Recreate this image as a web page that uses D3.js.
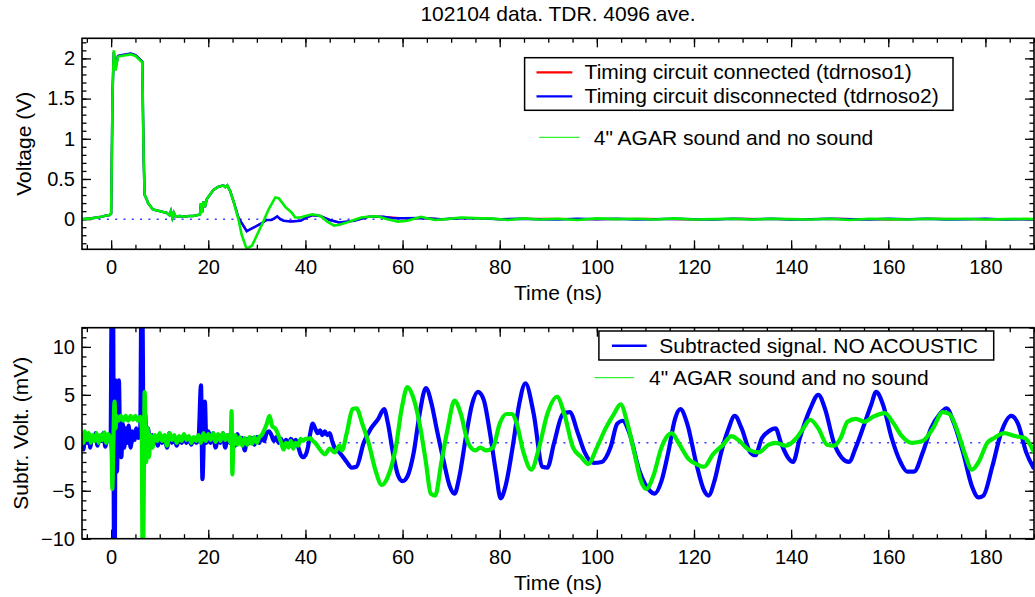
<!DOCTYPE html>
<html>
<head>
<meta charset="utf-8">
<script src="https://cdn.jsdelivr.net/npm/d3@7"></script>
<style>
  body { margin: 0; background: #fff; }
  svg { display: block; }
  text { font-family: "Liberation Sans", Arial, Helvetica, sans-serif; fill: #000; }
</style>
</head>
<body>
<div id="myChart"></div>
<script>
const width = 1035
const height = 597

// ---- data (time in ns) ----
// top panel, volts
const topGreen = [[-6,0],[-4,0.01],[-2,0.03],[-1,0.045],[-0.3,0.05],[0,0.07],[0.3,1.6],[0.55,2.1],[0.9,1.85],[1.4,2.02],[2,2.03],[3,2.04],[4,2.05],[5,2.03],[5.9,1.98],[6.4,1.95],[6.7,0.75],[6.9,0.3],[7.3,0.25],[7.6,0.2],[8.1,0.16],[8.6,0.12],[9.3,0.11],[10,0.1],[10.7,0.09],[11.4,0.08],[12,0.05],[12.3,0.1],[12.6,0.02],[12.9,0.08],[13.3,0.03],[14.1,0.04],[15,0.03],[16,0.04],[16.9,0.04],[17.8,0.05],[18.3,0.06],[18.5,0.2],[18.7,0.08],[19,0.22],[19.3,0.15],[19.7,0.25],[20.3,0.3],[21,0.36],[22,0.4],[23.1,0.42],[23.5,0.4],[23.9,0.42],[24.5,0.35],[25.2,0.22],[26.2,0],[26.9,-0.2],[27.9,-0.37],[29,-0.33],[30,-0.2],[31.4,-0.02],[32.4,0.12],[33.8,0.27],[34.5,0.26],[35.9,0.15],[37.2,0.08],[37.9,0.02],[39,0.02],[40,0.04],[41.4,0.06],[43.1,0.04],[44.5,-0.03],[45.9,-0.08],[47,-0.07],[48.6,-0.04],[50,-0.01],[51.5,0.02],[52.8,0.03],[54.8,0.035],[56.9,0],[59,-0.03],[61,-0.02],[63.8,0.03],[66.6,-0.01],[69,0],[72.1,0.02],[76.2,0.01],[78,0.01],[81.7,-0.01],[85,0.01],[88,-0.005],[92,0.005],[96,-0.01],[100,0.01],[104,0],[108,0.005],[112,-0.005],[116,0.01],[120,-0.005],[124,0],[128,0.005],[132,-0.005],[136,0.005],[140,0],[144,-0.005],[148,0.005],[152,-0.01],[156,0.005],[160,0],[164,-0.005],[168,0.005],[172,0],[176,0.005],[180,-0.005],[184,0],[188,0.005],[190,0]]
const topBlueHead = [[-6,0],[-4,0.01],[-2,0.03],[-1,0.045],[-0.3,0.05],[0,0.07],[0.3,1.6],[0.55,2.08],[0.9,1.87],[1.4,2.03],[2,2.04],[3,2.05],[4,2.06],[5,2.04],[5.9,1.99],[6.4,1.96],[6.7,0.75],[6.9,0.3],[7.3,0.25],[7.6,0.2],[8.1,0.16],[8.6,0.12],[9.3,0.11],[10,0.1],[10.7,0.09],[11.4,0.08],[12,0.05],[12.3,0.1],[12.6,0.02],[12.9,0.08],[13.3,0.03],[14.1,0.04],[15,0.03],[16,0.04],[16.9,0.04],[17.8,0.05],[18.3,0.06],[18.5,0.2],[18.7,0.08],[19,0.22],[19.3,0.15],[19.7,0.25],[20.3,0.3],[21,0.36],[22,0.4],[23.1,0.42],[23.5,0.4],[23.9,0.42],[24.5,0.35],[25.2,0.22]]
const topBlueTail = [[26.2,0.02],[26.9,-0.05],[27.9,-0.15],[28.5,-0.13],[29.5,-0.1],[31,-0.05],[32,-0.01],[33,-0.01],[33.6,0.01],[34.2,0.035],[34.8,0],[35.5,-0.02],[37,-0.03],[39,-0.02],[40.5,0.03],[41.5,0.05],[43,0.04],[45,-0.01],[47,-0.04],[50,-0.02],[53,0.03],[56,0.03],[58,0.01],[60,0.01],[64,0.015],[68,0],[72,0.01],[76,0.01],[80,0],[84,0.005],[88,0],[92,-0.005],[96,0.005],[100,0],[104,0.005],[108,-0.005],[112,0],[116,0.005],[120,0],[124,-0.005],[128,0.005],[132,0],[136,0.005],[140,-0.005],[144,0],[148,0.005],[152,0],[156,-0.005],[160,0.005],[164,0],[168,0.005],[172,-0.005],[176,0],[180,0.005],[184,-0.005],[188,0],[190,0]]
const topRedTail = [[26.2,0.02],[26.9,-0.05],[27.9,-0.14],[28.5,-0.13],[29.5,-0.1],[31,-0.05],[32,-0.01],[33,-0.01],[34.2,0.03],[35.5,-0.02],[37,-0.03],[39,-0.02],[41.5,0.05],[43,0.04],[45,-0.01],[47,-0.045],[50,-0.02],[53,0.03],[56,0.03],[60,0.01],[64,0.015],[68,0],[72,0.015],[76,0.01],[80,0],[90,0.005],[100,0],[110,0.005],[120,-0.005],[130,0.005],[140,0],[150,0.005],[160,-0.005],[170,0.005],[180,0],[190,0]]

// bottom panel, millivolts
const subBlue = [[-6,0.5],[-5.7,-0.7],[-5.4,0.8],[-5,0],[-4.6,0.9],[-4.3,-0.5],[-4,0.3],[-3.5,0.3],[-3.2,1],[-2.8,-0.3],[-2.4,0.6],[-2,0.2],[-1.6,1],[-1.2,-0.4],[-0.8,0.7],[-0.4,0.2],[-0.1,0.5],[0.1,14],[0.4,14],[0.6,-12],[0.75,-12],[0.9,6.5],[1.2,-3],[1.4,2],[1.6,6.5],[1.8,1],[2.1,-1.5],[2.4,2],[2.7,-0.5],[3,1.5],[3.3,0],[3.6,1.8],[4,-0.5],[4.4,1.2],[4.8,0.3],[5.2,1.5],[5.6,0.5],[6,1.5],[6.2,13],[6.45,13],[6.7,-3],[7,3],[7.3,-1],[7.6,1.5],[8,-0.5],[8.4,0.8],[8.8,0],[9.2,0.5],[9.6,-0.3],[10,0.8],[10.5,0],[11,0.5],[11.5,-0.5],[12,1],[12.5,0],[13,0.5],[13.5,-0.3],[14,0.5],[14.5,0],[15,0.8],[15.5,0],[16,0.5],[16.5,-0.2],[17,0.5],[17.5,0],[18,0.5],[18.5,6],[18.8,-3.8],[19.1,1],[19.3,4.3],[19.6,0],[20,1.2],[20.5,0],[21,1],[21.5,-0.5],[22,0.6],[22.5,0],[23,1],[23.5,-0.5],[24,0.8],[24.5,0],[25,0.6],[25.5,-0.3],[26,0.9],[26.5,0],[27,0.5],[27.5,-0.8],[28,0.4],[28.5,0],[29,0.5],[29.5,-0.2],[30,0.6],[30.5,0],[31,0.7],[31.5,0.2],[32,1],[32.5,1.2],[33,0.8],[33.5,0.2],[34,0.6],[34.5,0],[35,0.4],[35.5,-0.4],[36,0.3],[36.5,-0.3],[37,0.4],[37.5,0],[38,0.3],[38.5,-0.4],[39,-1.2],[39.5,-1.5],[40,-1.3],[40.5,-0.5],[41,1],[41.5,2],[42,1.5],[42.5,1],[43,1.3],[43.5,0.8],[44,1.2],[44.5,0.8],[45,1],[45.5,0.2],[46,-0.5],[47,-1],[48.5,-2],[49.5,-2.6],[50.5,-2.5],[52,0],[53.5,1.5],[55,2.5],[56.2,3.5],[57,2],[58,-1],[59,-3.3],[60,-4],[61,-3.5],[62.3,-1],[63.5,3],[64.8,5.7],[66,4],[67,1.5],[68.5,-2],[69.7,-4.5],[70.7,-5.3],[71.7,-3.5],[73,0.5],[74.3,4],[75.5,5.3],[76.7,4.5],[78,1],[79.2,-3],[80.2,-5.8],[81.2,-4.5],[82.8,0],[84,4],[85.3,6.2],[87,3],[88.8,-2.5],[89.8,-2.6],[91.2,0],[93,3],[94.4,3.2],[96.1,1],[97.5,-1],[99.3,-2.1],[101,-2],[102.8,-0.5],[104.2,2],[105.3,2.3],[106.7,1],[108.8,-3],[110.9,-5],[111.9,-5.3],[113.3,-4],[114.7,-1],[116.1,2.5],[117.2,3.5],[118.6,2],[120.4,-2],[122.1,-5],[123,-5.5],[124.2,-4],[125.6,-1],[127,1.3],[128.4,2.8],[129.8,1.5],[131.6,-1],[132.6,-1.3],[134,0.5],[135.4,1.2],[136.8,1.5],[137.9,0],[139.3,-1.5],[140.4,-2],[141.8,0.5],[143.9,3.5],[145.6,5],[147,3.5],[148.8,0],[150.5,-1.6],[151.9,-2],[153.3,-0.5],[155.1,2],[156.5,4],[157.5,5.3],[158.9,4],[160.7,0.5],[162.5,-2],[163.9,-3],[165.3,-3],[167.1,-1],[168.8,1.5],[170.6,3],[172,3.6],[173.4,2.2],[175.4,-1],[177.2,-4.5],[178.6,-5.7],[179.6,-5.5],[181.4,-2.5],[183.2,1],[185.3,2.8],[186.7,2],[188.4,-1],[190,-2.7]]
const subGreen = [[-6,1],[-5.7,0],[-5.4,1.2],[-5,0.3],[-4.6,1],[-4.2,0],[-3.8,0.8],[-3.4,0.2],[-3,1],[-2.6,0],[-2.2,0.8],[-1.8,0.3],[-1.4,1.1],[-1,0],[-0.6,0.9],[-0.2,0.4],[0.1,-1],[0.25,-4.8],[0.45,0],[0.7,4.3],[0.9,1.5],[1.1,2.8],[1.5,2.3],[2,2.8],[2.5,2.3],[3,2.8],[3.5,2.3],[4,2.8],[4.5,2.4],[5,2.8],[5.5,2.3],[6,2.7],[6.3,1.5],[6.45,-10.5],[6.6,-10.5],[6.9,5.3],[7.2,-2],[7.5,1.5],[7.8,-1.5],[8.1,0.8],[8.5,-0.5],[9,0.8],[9.5,0.2],[10,1],[10.5,0.2],[11,0.8],[11.5,-0.3],[12,1],[12.5,0.3],[13,0.8],[13.5,0],[14,0.7],[14.5,0.2],[15,0.9],[15.5,0.3],[16,0.7],[16.5,0],[17,0.6],[17.5,0.2],[18,0.8],[18.5,0],[19,1],[19.5,0.2],[20,0.9],[20.5,0.3],[21,1],[21.5,0.1],[22,0.9],[22.5,0.2],[23,1],[23.5,0.3],[24,0.8],[24.6,0],[24.8,3.3],[24.95,-3.3],[25.2,0.2],[25.6,0.8],[26,-0.2],[26.5,0.6],[27,-0.3],[27.5,0.5],[28,-0.2],[28.5,0.6],[29,-0.1],[29.5,0.6],[30,0],[30.5,0.6],[31,0.8],[31.5,1.3],[32,1.9],[32.6,2.8],[33.2,1.7],[33.8,1.5],[34.5,0.7],[35,0],[35.5,-0.7],[36,0],[36.5,-0.5],[37,0.2],[37.5,-0.6],[38,0],[38.5,-0.3],[39,0.4],[39.5,0.2],[40,0.4],[40.5,0.4],[41,0.5],[41.5,0.2],[42,0],[43,-0.7],[44,-1.2],[45,-0.6],[46,-1],[47,-0.3],[47.5,-0.8],[48.5,1],[49.7,3.5],[50.5,3.6],[51.7,2],[53,0],[54.5,-3],[55.7,-4.4],[57,-3.5],[58.6,-0.5],[59.8,3.5],[61,5.8],[62,5],[63.5,2],[64.8,-2],[65.8,-5.3],[66.7,-5.5],[68,-2],[69.3,1.5],[70.7,4.4],[72,3],[73.5,0],[75,-0.8],[76,-0.5],[77.2,-0.8],[78.6,-0.5],[80,2],[81.4,3],[82.5,3],[83.5,2],[84.9,-1],[86.5,-2.8],[88.1,-0.5],[89.8,3],[91.8,4.8],[93.3,3],[95.1,-0.5],[96.8,-1.5],[98.2,-2.2],[100,-0.5],[101.8,1.5],[103.5,3],[104.9,4],[106.3,2],[107.7,-1],[109.1,-4],[110.2,-4.8],[111.6,-3.5],[113.3,-0.5],[114.7,0.8],[115.4,1],[116.8,0],[118.9,-1.7],[120.4,-2.2],[122.1,-2.5],[123.9,-1.2],[126,-0.2],[127.7,0.7],[129.1,0.3],[131.2,-0.7],[133.3,-1],[135.4,-0.2],[136.8,0],[138.9,-0.3],[141.1,0.5],[142.5,1.5],[143.9,2.4],[145.6,1.5],[147.4,-0.2],[148.8,-0.3],[150.2,0.5],[151.6,2.2],[153.3,2.5],[155.1,2.2],[156.8,2.7],[159.3,3.1],[161.1,2],[162.8,0.7],[164.9,0],[167.1,0.2],[169.2,1.5],[171.2,3.2],[172.6,3],[174.4,1],[175.8,-1.2],[177.2,-2.8],[178.6,-2],[180.4,0],[181.8,0.5],[183.9,1],[186,0.7],[188.1,0.5],[190,-1]]

const xTicks = [0, 20, 40, 60, 80, 100, 120, 140, 160, 180]
const topYTicks = [0, 0.5, 1, 1.5, 2]
const botYTicks = [-10, -5, 0, 5, 10]

const title = "102104 data. TDR. 4096 ave."

let svg = d3.select("#myChart")
  .append("svg")
  .attr("width", width)
  .attr("height", height)

svg.append("text")
  .attr("x", 558)
  .attr("y", 21)
  .attr("text-anchor", "middle")
  .style("font-size", "21px")
  .text(title)

function drawPanel(top, bottom, yDomain, yTicks, yMinorStep, yLabel, yLabelX, clipId) {
  let x = d3.scaleLinear().domain([-6, 190]).range([82, 1034])
  let y = d3.scaleLinear().domain(yDomain).range([bottom, top])
  let g = svg.append("g")

  g.append("clipPath").attr("id", clipId)
    .append("rect")
    .attr("x", 82).attr("y", top)
    .attr("width", 1034 - 82).attr("height", bottom - top)

  let xMinor = d3.range(-5, 191, 5)
  let yMinor = d3.range(Math.ceil(yDomain[0] / yMinorStep) * yMinorStep, yDomain[1] + 1e-9, yMinorStep)

  // minor ticks, all four sides, pointing inward
  g.append("g").attr("transform", `translate(0,${bottom})`)
    .call(d3.axisBottom(x).tickValues(xMinor).tickSizeInner(-4.5).tickSizeOuter(0).tickFormat(""))
  g.append("g").attr("transform", `translate(0,${top})`)
    .call(d3.axisTop(x).tickValues(xMinor).tickSizeInner(-4.5).tickSizeOuter(0).tickFormat(""))
  g.append("g").attr("transform", "translate(82,0)")
    .call(d3.axisLeft(y).tickValues(yMinor).tickSizeInner(-4.5).tickSizeOuter(0).tickFormat(""))
  g.append("g").attr("transform", "translate(1034,0)")
    .call(d3.axisRight(y).tickValues(yMinor).tickSizeInner(-4.5).tickSizeOuter(0).tickFormat(""))

  // major ticks
  g.append("g").attr("class", "xaxis").attr("transform", `translate(0,${bottom})`)
    .call(d3.axisBottom(x).tickValues(xTicks).tickSizeInner(-9).tickSizeOuter(0).tickPadding(25).tickFormat(d3.format("d")))
  g.append("g").attr("transform", `translate(0,${top})`)
    .call(d3.axisTop(x).tickValues(xTicks).tickSizeInner(-9).tickSizeOuter(0).tickFormat(""))
  g.append("g").attr("class", "yaxis").attr("transform", "translate(82,0)")
    .call(d3.axisLeft(y).tickValues(yTicks).tickSizeInner(-9).tickSizeOuter(0).tickPadding(7).tickFormat(d3.format("~g")))
  g.append("g").attr("transform", "translate(1034,0)")
    .call(d3.axisRight(y).tickValues(yTicks).tickSizeInner(-9).tickSizeOuter(0).tickFormat(""))

  g.selectAll(".domain").remove()
  g.selectAll(".tick line").attr("stroke", "#000").attr("stroke-width", 1.3)
  g.selectAll(".xaxis .tick text").style("font-size", "20px").attr("dy", 0).attr("fill", "#000")
  g.selectAll(".yaxis .tick text").style("font-size", "20px").attr("fill", "#000")

  g.append("text")
    .attr("x", 558).attr("y", bottom + 51)
    .attr("text-anchor", "middle")
    .style("font-size", "21px")
    .text("Time (ns)")

  g.append("text")
    .attr("transform", `translate(${yLabelX},${(top + bottom) / 2}) rotate(-90)`)
    .attr("text-anchor", "middle")
    .style("font-size", "21px")
    .text(yLabel)

  // dotted zero line
  g.append("line")
    .attr("x1", 82).attr("x2", 1034)
    .attr("y1", y(0)).attr("y2", y(0))
    .attr("stroke", "#3a3aff")
    .attr("stroke-width", 1.5)
    .attr("stroke-dasharray", "2,6.3")

  let plot = g.append("g").attr("clip-path", `url(#${clipId})`)

  g.append("rect")
    .attr("x", 82).attr("y", top)
    .attr("width", 1034 - 82).attr("height", bottom - top)
    .attr("fill", "none")
    .attr("stroke", "#000")
    .attr("stroke-width", 1.6)

  return { x, y, g, plot }
}

// ---- top panel ----
let p1 = drawPanel(38.3, 249.3, [-0.375, 2.25], topYTicks, 0.1, "Voltage (V)", 31, "clipTop")
let line1 = d3.line().x(d => p1.x(d[0])).y(d => p1.y(d[1]))

p1.plot.append("path").datum(topBlueHead.concat(topRedTail))
  .attr("d", line1).attr("fill", "none").attr("stroke", "#ff0000").attr("stroke-width", 2)
p1.plot.append("path").datum(topBlueHead.concat(topBlueTail))
  .attr("d", line1).attr("fill", "none").attr("stroke", "#0000ff").attr("stroke-width", 2.5)
p1.plot.append("path").datum(topGreen)
  .attr("d", line1).attr("fill", "none").attr("stroke", "#00ee00").attr("stroke-width", 2.6)

// legend, top
let leg1 = p1.g.append("g")
leg1.append("rect")
  .attr("x", 524.6).attr("y", 57.7).attr("width", 953 - 524.6).attr("height", 110.3 - 57.7)
  .attr("fill", "#fff").attr("stroke", "#000").attr("stroke-width", 1.5)
const leg1Items = [
  { label: "Timing circuit connected (tdrnoso1)", color: "#ff0000", y: 72.3, w: 2.2 },
  { label: "Timing circuit disconnected (tdrnoso2)", color: "#0000ff", y: 96.3, w: 2.2 }
]
leg1Items.forEach(d => {
  leg1.append("line").attr("x1", 536.5).attr("x2", 572.3).attr("y1", d.y).attr("y2", d.y)
    .attr("stroke", d.color).attr("stroke-width", d.w)
  leg1.append("text").attr("x", 584.6).attr("y", d.y + 7).style("font-size", "21px").text(d.label)
})
leg1.append("line").attr("x1", 539.2).attr("x2", 579.5).attr("y1", 137.3).attr("y2", 137.3)
  .attr("stroke", "#00ee00").attr("stroke-width", 1)
leg1.append("text").attr("x", 593.8).attr("y", 144.5).style("font-size", "21px").text("4\" AGAR sound and no sound")

// ---- bottom panel ----
let p2 = drawPanel(327.7, 538.7, [-10, 12], botYTicks, 1, "Subtr. Volt. (mV)", 28, "clipBot")
let line2 = d3.line().x(d => p2.x(d[0])).y(d => p2.y(d[1])).curve(d3.curveMonotoneX)

p2.plot.append("path").datum(subBlue)
  .attr("d", line2).attr("fill", "none").attr("stroke", "#0000ff").attr("stroke-width", 4.2)
  .attr("stroke-linejoin", "round")
p2.plot.append("path").datum(subGreen)
  .attr("d", line2).attr("fill", "none").attr("stroke", "#00ee00").attr("stroke-width", 4.2)
  .attr("stroke-linejoin", "round")

let leg2 = p2.g.append("g")
leg2.append("rect")
  .attr("x", 598.9).attr("y", 331).attr("width", 993.7 - 598.9).attr("height", 29)
  .attr("fill", "#fff").attr("stroke", "#000").attr("stroke-width", 1.5)
leg2.append("line").attr("x1", 611.9).attr("x2", 646.7).attr("y1", 345.7).attr("y2", 345.7)
  .attr("stroke", "#0000ff").attr("stroke-width", 2.5)
leg2.append("text").attr("x", 659.3).attr("y", 352.7).style("font-size", "21px").text("Subtracted signal. NO ACOUSTIC")
leg2.append("line").attr("x1", 594.5).attr("x2", 634.1).attr("y1", 377.7).attr("y2", 377.7)
  .attr("stroke", "#00ee00").attr("stroke-width", 1)
leg2.append("text").attr("x", 649.1).attr("y", 384.7).style("font-size", "21px").text("4\" AGAR sound and no sound")
</script>
</body>
</html>
